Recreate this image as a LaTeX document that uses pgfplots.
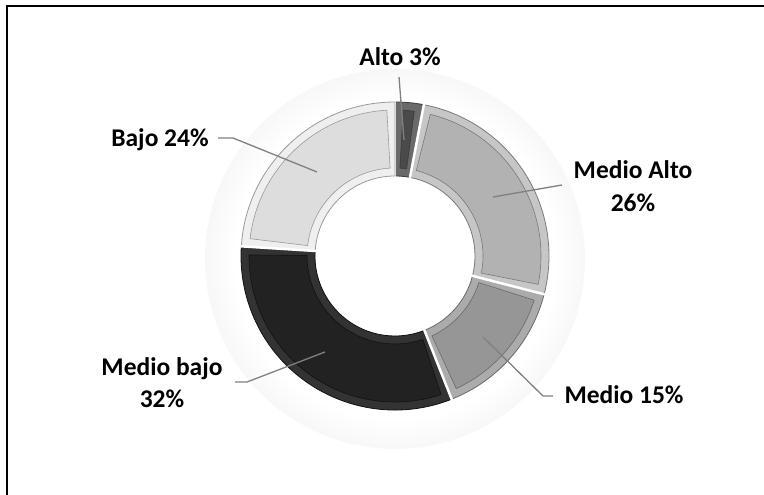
\documentclass[border=0pt]{standalone}
\usepackage{pgfplots}
\pgfplotsset{compat=1.18}
\usepackage{pgfplotstable}
\usepackage{fontspec}
\setmainfont{Carlito}

\definecolor{altoE}{HTML}{6A6A6A}\definecolor{altoF}{HTML}{4A4A4A}\definecolor{altoL}{HTML}{3A3A3A}
\definecolor{maE}{HTML}{C6C6C6}\definecolor{maF}{HTML}{B2B2B2}\definecolor{maL}{HTML}{7A7A7A}
\definecolor{meE}{HTML}{ABABAB}\definecolor{meF}{HTML}{969696}\definecolor{meL}{HTML}{6A6A6A}
\definecolor{mbE}{HTML}{333333}\definecolor{mbF}{HTML}{222222}\definecolor{mbL}{HTML}{111111}
\definecolor{bjE}{HTML}{EFEFEF}\definecolor{bjF}{HTML}{DDDDDD}\definecolor{bjL}{HTML}{9A9A9A}
\definecolor{leader}{HTML}{808080}

\pgfdeclareradialshading{donutglow}{\pgfpoint{0bp}{0bp}}{color(0bp)=(white); color(21bp)=(white); color(40bp)=(black!14); color(42bp)=(black!8); color(45bp)=(black!3); color(48bp)=(black!0.5); color(50bp)=(white)}

\pgfplotstableread{
label value edge face line
Alto 3 altoE altoF altoL
MedioAlto 26 maE maF maL
Medio 15 meE meF meL
MedioBajo 32 mbE mbF mbL
Bajo 24 bjE bjF bjL
}\donut

\begin{document}
\begin{tikzpicture}
\begin{axis}[
  anchor=origin, at={(0pt,0pt)},
  x=1pt, y=1pt,
  xmin=0, xmax=764, ymin=0, ymax=495,
  hide axis, clip=false,
]
\pgfplotsextra{
  \def\cx{395}\def\cy{239}\def\R{154}\def\r{80}
  % glow
  \shade[shading=donutglow] (axis cs:\cx,\cy-3) circle[radius=190pt];
  \xdef\startang{90}
  \foreach \i in {0,...,4}{
    \pgfplotstablegetelem{\i}{value}\of\donut \edef\v{\pgfplotsretval}
    \pgfplotstablegetelem{\i}{edge}\of\donut \edef\ec{\pgfplotsretval}
    \pgfplotstablegetelem{\i}{face}\of\donut \edef\fc{\pgfplotsretval}
    \pgfplotstablegetelem{\i}{line}\of\donut \edef\lc{\pgfplotsretval}
    \pgfmathsetmacro\a{\startang}
    \pgfmathsetmacro\b{\startang-3.6*\v}
    \pgfmathsetmacro\dr{\R-\r}
    % outer slice (bevel edge)
    \filldraw[fill=\ec, draw=\lc, line width=0.8pt]
      (axis cs:\cx,\cy) ++(\a:\R pt) arc[start angle=\a, end angle=\b, radius=\R pt]
      -- ++(\b+180:\dr pt) arc[start angle=\b, end angle=\a, radius=\r pt] -- cycle;
    % inner face
    \pgfmathsetmacro\fa{\a-3.2}
    \pgfmathsetmacro\fb{\b+3.2}
    \pgfmathsetmacro\fR{\R-8}
    \pgfmathsetmacro\fr{\r+8}
    \pgfmathsetmacro\fdr{\fR-\fr}
    \filldraw[fill=\fc, draw=\lc, line width=0.6pt]
      (axis cs:\cx,\cy) ++(\fa:\fR pt) arc[start angle=\fa, end angle=\fb, radius=\fR pt]
      -- ++(\fb+180:\fdr pt) arc[start angle=\fb, end angle=\fa, radius=\fr pt] -- cycle;
    % gap at slice start
    \draw[white, line width=2.5pt] (axis cs:\cx,\cy) ++(\a:\r pt-1pt) -- ++(\a:\dr pt+2pt);
    \xdef\startang{\b}
  }
}
% frame (top and left edges)
\draw[black, line width=2.5pt] (axis cs:7,0) -- (axis cs:7,489) -- (axis cs:764,489);
% leader lines
\draw[leader, line width=1.3pt] (axis cs:399,418) -- (axis cs:404,355);
\draw[leader, line width=1.3pt] (axis cs:218,357) -- (axis cs:233,357) -- (axis cs:317,323);
\draw[leader, line width=1.3pt] (axis cs:562,310) -- (axis cs:493,298);
\draw[leader, line width=1.3pt] (axis cs:553,99) -- (axis cs:543,99) -- (axis cs:483,158);
\draw[leader, line width=1.3pt] (axis cs:235,113) -- (axis cs:247,113) -- (axis cs:325,143);
% labels
\begin{scope}[every node/.style={font=\fontsize{25.5}{30}\selectfont\bfseries, anchor=base, inner sep=0pt}]
\node at (axis cs:400,429) {Alto 3\%};
\node at (axis cs:160,348) {Bajo 24\%};
\node at (axis cs:633,316) {Medio Alto};
\node at (axis cs:633,283) {26\%};
\node at (axis cs:624,91) {Medio 15\%};
\node at (axis cs:162,119) {Medio bajo};
\node at (axis cs:162,87) {32\%};
\end{scope}
\end{axis}
\pgfresetboundingbox
\useasboundingbox (0pt,0pt) rectangle (764pt,495pt);
\end{tikzpicture}
\end{document}
